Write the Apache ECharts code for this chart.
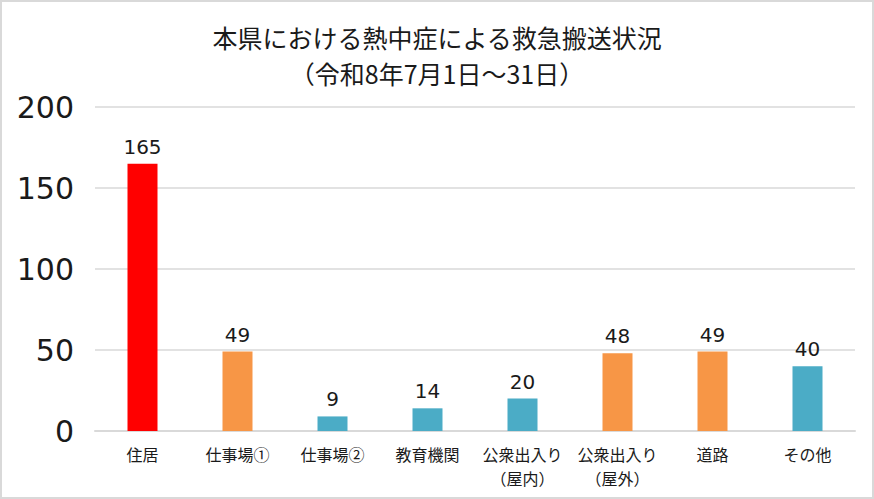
<!DOCTYPE html>
<html>
<head>
<meta charset="utf-8">
<script src="https://cdn.jsdelivr.net/npm/echarts@6/dist/echarts.min.js"></script>
<style>
  html, body { margin: 0; padding: 0; background: #fff; }
  #chart { width: 874px; height: 499px; box-sizing: border-box; border: 2px solid #d9d9d9; }
</style>
</head>
<body>
<div id="chart"></div>
<script>
var categories = ['住居', '仕事場①', '仕事場②', '教育機関', '公衆出入り\n（屋内）', '公衆出入り\n（屋外）', '道路', 'その他'];
var values = [165, 49, 9, 14, 20, 48, 49, 40];
var barColors = ['#ff0000', '#f79646', '#4bacc6', '#4bacc6', '#4bacc6', '#f79646', '#f79646', '#4bacc6'];
var yTicks = [0, 50, 100, 150, 200];

var font = '"Noto Sans CJK JP", "Noto Sans", sans-serif';
var numFont = '"DejaVu Sans", sans-serif';
var rule = '#d9d9d9';
var ink = '#1a1a1a';

var chart = echarts.init(document.getElementById('chart'), null, { renderer: 'svg' });
chart.setOption({
  animation: false,
  title: {
    text: '本県における熱中症による救急搬送状況\n（令和8年7月1日～31日）',
    left: 'center',
    top: 12,
    textStyle: {
      fontFamily: font,
      fontSize: 25,
      fontWeight: 'normal',
      color: ink,
      lineHeight: 36
    }
  },
  grid: {
    left: 93,
    right: 17,
    top: 105,
    bottom: 66
  },
  xAxis: {
    type: 'category',
    data: categories,
    axisLine: { lineStyle: { color: rule, width: 2 } },
    axisTick: { show: false },
    axisLabel: {
      fontFamily: font,
      fontSize: 16,
      color: ink,
      margin: 11,
      lineHeight: 24,
      interval: 0
    }
  },
  yAxis: {
    type: 'value',
    min: yTicks[0],
    max: yTicks[yTicks.length - 1],
    interval: 50,
    axisLine: { show: false },
    axisTick: { show: false },
    splitLine: { lineStyle: { color: rule, width: 1.5 } },
    axisLabel: {
      fontFamily: numFont,
      fontSize: 30,
      color: ink,
      margin: 21
    }
  },
  series: [{
    type: 'bar',
    data: values.map(function(v, i) {
      return { value: v, itemStyle: { color: barColors[i] } };
    }),
    barWidth: 30,
    label: {
      show: true,
      position: 'top',
      distance: 7,
      fontFamily: numFont,
      fontSize: 20,
      color: ink
    }
  }]
});
</script>
</body>
</html>
